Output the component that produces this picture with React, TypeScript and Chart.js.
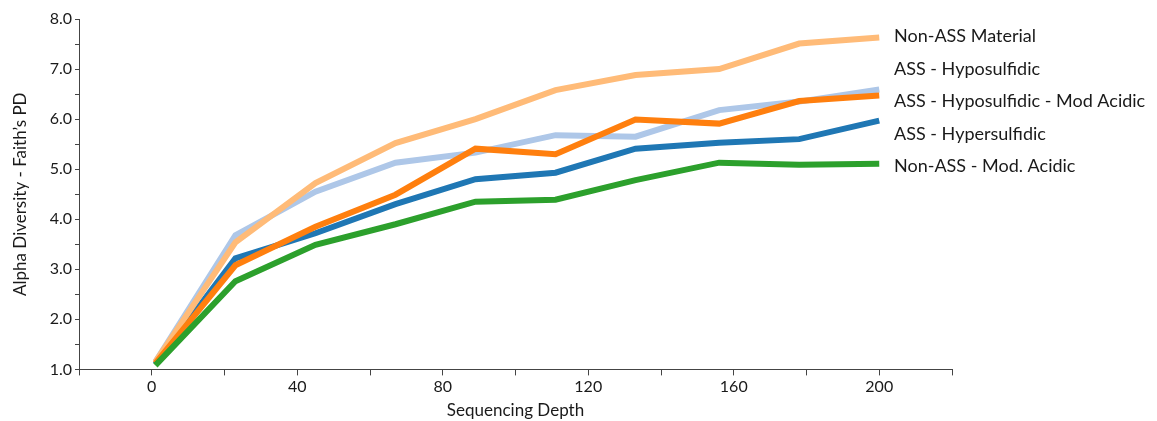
import React, { useEffect, useRef } from "react";
import { Chart, registerables } from "chart.js";

Chart.register(...registerables);

const depths = [1, 23, 45, 67, 89, 111, 133, 156, 178, 200];

const seriesNames = [
  "Non-ASS Material",
  "ASS - Hyposulfidic",
  "ASS - Hyposulfidic - Mod Acidic",
  "ASS - Hypersulfidic",
  "Non-ASS - Mod. Acidic",
];

const nonAssMaterial = [1.15, 3.54, 4.72, 5.52, 6.0, 6.58, 6.88, 7.0, 7.51, 7.63];
const assHyposulfidic = [1.15, 3.68, 4.55, 5.13, 5.33, 5.68, 5.65, 6.18, 6.35, 6.59];
const assHypoModAcidic = [1.12, 3.08, 3.85, 4.49, 5.41, 5.3, 5.99, 5.91, 6.36, 6.47];
const assHypersulfidic = [1.1, 3.22, 3.72, 4.3, 4.8, 4.93, 5.41, 5.53, 5.6, 5.97];
const nonAssModAcidic = [1.08, 2.76, 3.49, 3.9, 4.35, 4.39, 4.78, 5.13, 5.09, 5.11];

const seriesValues = [nonAssMaterial, assHyposulfidic, assHypoModAcidic, assHypersulfidic, nonAssModAcidic];
const seriesColors = ["#ffbb78", "#aec7e8", "#ff7f0e", "#1f77b4", "#2ca02c"];
const drawOrder = [2, 4, 1, 3, 0];

const xLabelTicks = [0, 40, 80, 120, 160, 200];

const FONT = "Lato, 'Open Sans', sans-serif";

const labelPlugin = {
  id: "sideLabels",
  afterDraw(chart: any) {
    const ctx = chart.ctx;
    ctx.save();
    ctx.font = `18px ${FONT}`;
    ctx.fillStyle = "#1a1a1a";
    ctx.textAlign = "left";
    ctx.textBaseline = "alphabetic";
    seriesNames.forEach((name, i) => {
      ctx.fillText(name, 894, 42 + i * 32.6);
    });
    ctx.restore();
  },
};

export default function App() {
  const ref = useRef<HTMLCanvasElement | null>(null);
  useEffect(() => {
    if (!ref.current) return;
    const chart = new Chart(ref.current, {
      type: "line",
      data: {
        datasets: seriesNames.map((name, i) => ({
          label: name,
          data: depths.map((d, j) => ({ x: d, y: seriesValues[i][j] })),
          borderColor: seriesColors[i],
          backgroundColor: seriesColors[i],
          borderWidth: 6,
          pointRadius: 0,
          tension: 0,
          fill: false,
          order: drawOrder[i],
          borderJoinStyle: "miter" as const,
        })),
      },
      options: {
        animation: false,
        responsive: false,
        maintainAspectRatio: false,
        layout: { padding: { left: 0, right: 205, top: 19, bottom: 0 } },
        plugins: {
          legend: { display: false },
          tooltip: { enabled: false },
        },
        scales: {
          x: {
            type: "linear",
            min: -20,
            max: 220,
            border: { color: "#444", width: 1 },
            grid: { drawOnChartArea: false, drawTicks: true, tickLength: 6, color: "#444" },
            ticks: {
              stepSize: 20,
              autoSkip: false,
              maxRotation: 0,
              color: "#1a1a1a",
              font: { family: FONT, size: 16 },
              padding: 2,
              callback: (v: any) => (xLabelTicks.includes(Number(v)) ? String(v) : ""),
            },
            title: {
              display: true,
              text: "Sequencing Depth",
              color: "#1a1a1a",
              font: { family: FONT, size: 17 },
              padding: { top: 2, bottom: 0 },
            },
          },
          y: {
            type: "linear",
            min: 1,
            max: 8,
            border: { color: "#444", width: 1 },
            grid: { drawOnChartArea: false, drawTicks: true, tickLength: 4, color: "#444" },
            ticks: {
              stepSize: 0.5,
              autoSkip: false,
              color: "#1a1a1a",
              font: { family: FONT, size: 16 },
              padding: 3,
              callback: (v: any) => (Number(v) % 1 === 0 ? Number(v).toFixed(1) : ""),
            },
            title: {
              display: true,
              text: "Alpha Diversity - Faith’s PD",
              color: "#1a1a1a",
              font: { family: FONT, size: 17 },
              padding: { top: 10, bottom: 4 },
            },
            afterFit: (scale: any) => {
              scale.width = 79;
            },
          },
        },
      },
      plugins: [labelPlugin],
    });
    return () => chart.destroy();
  }, []);
  return (
    <div style={{ position: "absolute", left: 0, top: 0, width: 1157, height: 421 }}>
      <canvas ref={ref} width={1157} height={421} />
    </div>
  );
}
